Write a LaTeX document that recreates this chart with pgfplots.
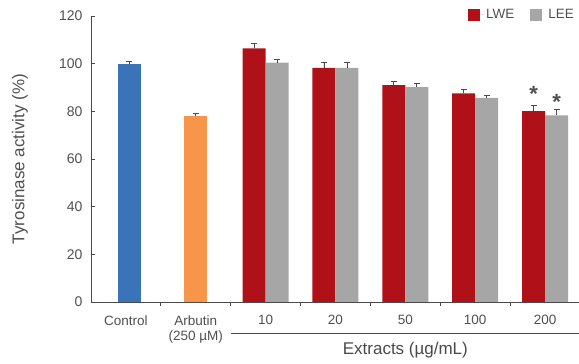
\documentclass[border=0pt]{standalone}
\usepackage{fontspec}
\setmainfont{Liberation Sans}
\usepackage{pgfplots}
\pgfplotsset{compat=1.18}
\definecolor{cblue}{HTML}{3B73B9}
\definecolor{corange}{HTML}{F7954A}
\definecolor{cred}{HTML}{B01017}
\definecolor{cgray}{HTML}{A6A6A6}
\definecolor{axiscol}{HTML}{4A4A4A}
\definecolor{txtcol}{HTML}{505050}
\begin{document}
\begin{tikzpicture}
\begin{axis}[
  scale only axis, width=489pt, height=286pt,
  at={(0,0)}, anchor=south west,
  xmin=-0.5, xmax=6.5, ymin=0, ymax=120,
  axis x line*=bottom, axis y line*=left,
  axis line style={draw=axiscol, line width=0.9pt},
  ytick={0,20,...,120},
  tick align=inside,
  major tick length=4pt,
  ytick style={draw=axiscol, line width=0.8pt},
  xtick={0,...,6},
  xtick style={draw=none},
  xticklabels={Control, Arbutin\\(250 µM), 10, 20, 50, 100, 200},
  extra x ticks={0.5,1.5,...,5.5},
  extra x tick labels={},
  extra x tick style={xtick style={draw=axiscol, line width=0.8pt}},
  x tick label style={align=center, anchor=north, font=\fontsize{13.5}{15.5}\selectfont, text=txtcol, yshift=-6pt},
  y tick label style={font=\fontsize{14}{16}\selectfont, text=txtcol, xshift=-5pt},
  /pgf/number format/assume math mode=true,
  ylabel={Tyrosinase activity (\%)},
  ylabel style={at={(axis description cs:-0.145,0.5)}, anchor=center, rotate=0, font=\fontsize{17}{19}\selectfont, text=txtcol},
  ybar, bar width=23pt,
  clip=false,
  legend style={at={(axis description cs:1,1)}, anchor=east, xshift=-1pt, yshift=1pt, draw=none, fill=none,
    font=\fontsize{13.5}{15}\selectfont, text=txtcol, legend columns=2,
    /tikz/every even column/.append style={column sep=14pt}},
  legend image code/.code={\fill[#1,draw=none] (0pt,-6pt) rectangle (12pt,6pt); \path (0pt,0pt) -- (16pt,0pt);},
  error bars/y dir=both, error bars/y explicit,
  error bars/error bar style={draw=axiscol, line width=0.8pt},
  error bars/error mark options={rotate=90, mark size=3pt, draw=axiscol, line width=0.8pt},
]
\addplot[fill=cblue, draw=none, bar shift=3.5pt, forget plot,
  error bars/y dir=plus] coordinates {(0,100) +- (0,0.8)};
\addplot[fill=corange, draw=none, bar shift=0pt, forget plot,
  error bars/y dir=plus] coordinates {(1,78.0) +- (0,1.1)};
\addplot[fill=cred, draw=none, bar shift=-11.5pt, error bars/y dir=plus] coordinates {
  (2,106.4) +- (0,2.3)
  (3,98.2) +- (0,2.5)
  (4,91.0) +- (0,1.7)
  (5,87.5) +- (0,1.6)
  (6,80.1) +- (0,2.4)
};
\addlegendentry{LWE}
\addplot[fill=cgray, draw=none, bar shift=11.5pt, error bars/y dir=plus] coordinates {
  (2,100.4) +- (0,1.3)
  (3,98.2) +- (0,2.5)
  (4,90.2) +- (0,1.4)
  (5,85.6) +- (0,1.2)
  (6,78.3) +- (0,2.4)
};
\addlegendentry{LEE}
\node[anchor=base, font=\fontsize{22}{22}\selectfont\bfseries, text=txtcol, xshift=-11.5pt, yshift=-12.9pt] at (axis cs:6,89.5) {*};
\node[anchor=base, font=\fontsize{22}{22}\selectfont\bfseries, text=txtcol, xshift=11.5pt, yshift=-12.9pt] at (axis cs:6,86.3) {*};
\draw[axiscol, line width=0.9pt] ([yshift=-31pt]axis cs:1.5,0) -- ([yshift=-31pt]axis cs:6.5,0);
\node[font=\fontsize{17}{19}\selectfont, text=axiscol] at ([yshift=-48pt]axis cs:4,0) {Extracts (µg/mL)};
\end{axis}
\pgfresetboundingbox
\path[use as bounding box] (-91pt,-62pt) rectangle (488pt,302pt);
\end{tikzpicture}
\end{document}
